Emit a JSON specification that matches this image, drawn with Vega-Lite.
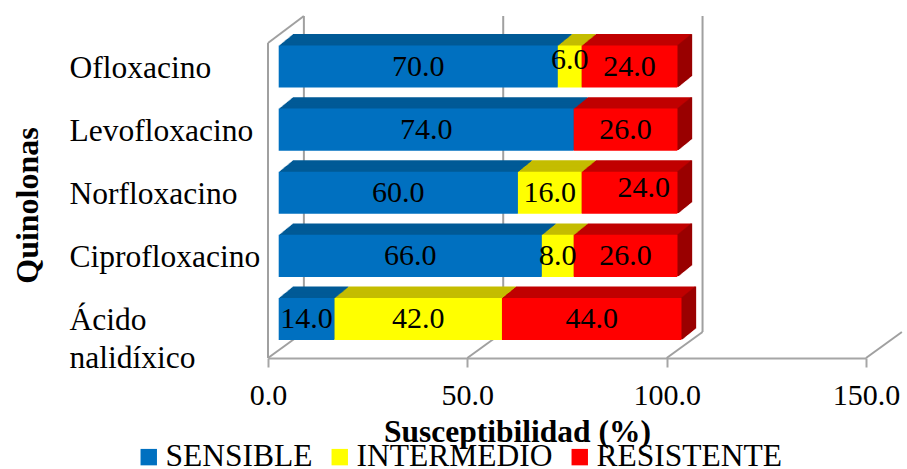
{"$schema":"https://vega.github.io/schema/vega-lite/v6.json","width":598,"height":343,"autosize":"none","padding":{"left":268,"top":15,"right":41,"bottom":111},"background":"white","config":{"view":{"stroke":null},"font":"Liberation Serif"},
"datasets":{"bars":[
{"q":"Ofloxacino","cat":"SENSIBLE","inicio":0,"fin":70,"valor":70},
{"q":"Ofloxacino","cat":"INTERMEDIO","inicio":70,"fin":76,"valor":6},
{"q":"Ofloxacino","cat":"RESISTENTE","inicio":76,"fin":100,"valor":24},
{"q":"Levofloxacino","cat":"SENSIBLE","inicio":0,"fin":74,"valor":74},
{"q":"Levofloxacino","cat":"RESISTENTE","inicio":74,"fin":100,"valor":26},
{"q":"Norfloxacino","cat":"SENSIBLE","inicio":0,"fin":60,"valor":60},
{"q":"Norfloxacino","cat":"INTERMEDIO","inicio":60,"fin":76,"valor":16},
{"q":"Norfloxacino","cat":"RESISTENTE","inicio":76,"fin":100,"valor":24},
{"q":"Ciprofloxacino","cat":"SENSIBLE","inicio":0,"fin":66,"valor":66},
{"q":"Ciprofloxacino","cat":"INTERMEDIO","inicio":66,"fin":74,"valor":8},
{"q":"Ciprofloxacino","cat":"RESISTENTE","inicio":74,"fin":100,"valor":26},
{"q":"Ácido nalidíxico","cat":"SENSIBLE","inicio":0,"fin":14,"valor":14},
{"q":"Ácido nalidíxico","cat":"INTERMEDIO","inicio":14,"fin":56,"valor":42},
{"q":"Ácido nalidíxico","cat":"RESISTENTE","inicio":56,"fin":101,"valor":44}
],"walls":[
{"x":0,"x2":0,"y":0,"y2":315},
{"x":0,"x2":9,"y":315,"y2":342},
{"x":9,"x2":9,"y":26,"y2":342},
{"x":59,"x2":59,"y":26,"y2":342},
{"x":109,"x2":109,"y":26,"y2":342},
{"x":0,"x2":9,"y":0,"y2":26},
{"x":50,"x2":59,"y":0,"y2":26},
{"x":100,"x2":109,"y":0,"y2":26},
{"x":150,"x2":159,"y":0,"y2":26}
]},
"resolve":{"scale":{"y":"independent"},"axis":{"y":"independent"}},
"layer":[
{"data":{"name":"walls"},"mark":{"type":"rule","color":"#A0A0A0","strokeWidth":2,"clip":false},
"encoding":{"x":{"field":"x","type":"quantitative","scale":{"domain":[0,150],"nice":false},"axis":{"values":[0,50,100,150],"format":".1f","grid":false,"domainColor":"#A6A6A6","domainWidth":2,"tickColor":"#A6A6A6","tickWidth":2,"tickSize":9,"labelFont":"Liberation Serif","labelFontSize":30,"labelColor":"#000000","labelPadding":13,"labelFlush":false,"labelOverlap":false,"title":"Susceptibilidad (%)","titleFont":"Liberation Serif","titleFontSize":31.5,"titleFontWeight":"bold","titleColor":"#000000","titleX":249,"titleY":74,"titleBaseline":"middle","titleAlign":"center"}},"x2":{"field":"x2"},"y":{"field":"y","type":"quantitative","scale":{"domain":[0,343],"nice":false},"axis":null},"y2":{"field":"y2"}}},
{"data":{"name":"bars"},
"encoding":{"y":{"field":"q","type":"nominal","sort":null,"scale":{"domain":["Ofloxacino","Levofloxacino","Norfloxacino","Ciprofloxacino","Ácido nalidíxico"],"range":[20,335.5],"paddingInner":0.3333,"paddingOuter":0.1667},"axis":{"title":"Quinolonas","titleFont":"Liberation Serif","titleFontSize":32,"titleFontWeight":"bold","titleColor":"#000000","titleX":-241,"titleY":190,"titleBaseline":"middle","titleAlign":"center","domain":false,"ticks":false,"labelAlign":"left","labelPadding":199,"labelFont":"Liberation Serif","labelFontSize":31.5,"labelColor":"#000000","labelLimit":400,"labelLineHeight":38,"labelOffset":2,"labelExpr":"datum.label == 'Ácido nalidíxico' ? ['Ácido', 'nalidíxico'] : datum.label"}}},
"resolve":{"scale":{"color":"independent"}},
"layer":[
{"encoding":{"x":{"field":"inicio","type":"quantitative"},"x2":{"field":"fin"},"color":{"field":"cat","type":"nominal","legend":null,"scale":{"domain":["SENSIBLE","INTERMEDIO","RESISTENTE"],"range":["#005A96","#C4BD00","#C00000"]}}},
"layer":[
{"mark":{"type":"bar","xOffset":24.7,"x2Offset":24.7,"yOffset":-11.4,"y2Offset":-11.4}},
{"mark":{"type":"bar","xOffset":23.7,"x2Offset":23.7,"yOffset":-10.6,"y2Offset":-10.6}},
{"mark":{"type":"bar","xOffset":22.7,"x2Offset":22.7,"yOffset":-9.8,"y2Offset":-9.8}},
{"mark":{"type":"bar","xOffset":21.7,"x2Offset":21.7,"yOffset":-8.9,"y2Offset":-8.9}},
{"mark":{"type":"bar","xOffset":20.7,"x2Offset":20.7,"yOffset":-8.1,"y2Offset":-8.1}},
{"mark":{"type":"bar","xOffset":19.7,"x2Offset":19.7,"yOffset":-7.3,"y2Offset":-7.3}},
{"mark":{"type":"bar","xOffset":18.7,"x2Offset":18.7,"yOffset":-6.5,"y2Offset":-6.5}},
{"mark":{"type":"bar","xOffset":17.7,"x2Offset":17.7,"yOffset":-5.7,"y2Offset":-5.7}},
{"mark":{"type":"bar","xOffset":16.7,"x2Offset":16.7,"yOffset":-4.9,"y2Offset":-4.9}},
{"mark":{"type":"bar","xOffset":15.7,"x2Offset":15.7,"yOffset":-4.1,"y2Offset":-4.1}},
{"mark":{"type":"bar","xOffset":14.7,"x2Offset":14.7,"yOffset":-3.3,"y2Offset":-3.3}},
{"mark":{"type":"bar","xOffset":13.7,"x2Offset":13.7,"yOffset":-2.4,"y2Offset":-2.4}},
{"mark":{"type":"bar","xOffset":12.7,"x2Offset":12.7,"yOffset":-1.6,"y2Offset":-1.6}},
{"mark":{"type":"bar","xOffset":11.7,"x2Offset":11.7,"yOffset":-0.8,"y2Offset":-0.8}}
]},
{"transform":[{"filter":"datum.cat == 'RESISTENTE'"}],"encoding":{"x":{"field":"fin","type":"quantitative"}},
"layer":[
{"mark":{"type":"tick","size":42,"thickness":1.6,"color":"#9A0000","opacity":1,"xOffset":24.7,"yOffset":-11.4}},
{"mark":{"type":"tick","size":42,"thickness":1.6,"color":"#9A0000","opacity":1,"xOffset":23.7,"yOffset":-10.6}},
{"mark":{"type":"tick","size":42,"thickness":1.6,"color":"#9A0000","opacity":1,"xOffset":22.7,"yOffset":-9.8}},
{"mark":{"type":"tick","size":42,"thickness":1.6,"color":"#9A0000","opacity":1,"xOffset":21.7,"yOffset":-8.9}},
{"mark":{"type":"tick","size":42,"thickness":1.6,"color":"#9A0000","opacity":1,"xOffset":20.7,"yOffset":-8.1}},
{"mark":{"type":"tick","size":42,"thickness":1.6,"color":"#9A0000","opacity":1,"xOffset":19.7,"yOffset":-7.3}},
{"mark":{"type":"tick","size":42,"thickness":1.6,"color":"#9A0000","opacity":1,"xOffset":18.7,"yOffset":-6.5}},
{"mark":{"type":"tick","size":42,"thickness":1.6,"color":"#9A0000","opacity":1,"xOffset":17.7,"yOffset":-5.7}},
{"mark":{"type":"tick","size":42,"thickness":1.6,"color":"#9A0000","opacity":1,"xOffset":16.7,"yOffset":-4.9}},
{"mark":{"type":"tick","size":42,"thickness":1.6,"color":"#9A0000","opacity":1,"xOffset":15.7,"yOffset":-4.1}},
{"mark":{"type":"tick","size":42,"thickness":1.6,"color":"#9A0000","opacity":1,"xOffset":14.7,"yOffset":-3.3}},
{"mark":{"type":"tick","size":42,"thickness":1.6,"color":"#9A0000","opacity":1,"xOffset":13.7,"yOffset":-2.4}},
{"mark":{"type":"tick","size":42,"thickness":1.6,"color":"#9A0000","opacity":1,"xOffset":12.7,"yOffset":-1.6}},
{"mark":{"type":"tick","size":42,"thickness":1.6,"color":"#9A0000","opacity":1,"xOffset":11.7,"yOffset":-0.8}}
]},
{"mark":{"type":"bar","xOffset":10.7,"x2Offset":10.7},
"encoding":{"x":{"field":"inicio","type":"quantitative"},"x2":{"field":"fin"},"color":{"field":"cat","type":"nominal","scale":{"domain":["SENSIBLE","INTERMEDIO","RESISTENTE"],"range":["#0070C0","#FFFF00","#FF0000"]},"legend":{"title":null,"orient":"none","legendX":-135,"legendY":426,"direction":"horizontal","columns":3,"symbolType":"square","symbolSize":270,"symbolStrokeWidth":0,"labelFont":"Liberation Serif","labelFontSize":31.5,"labelColor":"#000000","labelOffset":1,"columnPadding":11,"labelLimit":300,"padding":0}}}},
{"transform":[{"calculate":"(datum.inicio + datum.fin) / 2","as":"centro"},{"filter":"!(datum.valor == 6 || (datum.q == 'Norfloxacino' && datum.valor == 24))"}],
"mark":{"type":"text","xOffset":10.7,"fontSize":30,"font":"Liberation Serif","color":"#000000","baseline":"middle"},
"encoding":{"x":{"field":"centro","type":"quantitative"},"text":{"field":"valor","type":"quantitative","format":".1f"}}},
{"transform":[{"calculate":"(datum.inicio + datum.fin) / 2","as":"centro"},{"filter":"datum.valor == 6"}],
"mark":{"type":"text","xOffset":10.7,"yOffset":-7,"fontSize":30,"font":"Liberation Serif","color":"#000000","baseline":"middle"},
"encoding":{"x":{"field":"centro","type":"quantitative"},"text":{"field":"valor","type":"quantitative","format":".1f"}}},
{"transform":[{"calculate":"(datum.inicio + datum.fin) / 2","as":"centro"},{"filter":"datum.q == 'Norfloxacino' && datum.valor == 24"}],
"mark":{"type":"text","xOffset":25,"yOffset":-5,"fontSize":30,"font":"Liberation Serif","color":"#000000","baseline":"middle"},
"encoding":{"x":{"field":"centro","type":"quantitative"},"text":{"field":"valor","type":"quantitative","format":".1f"}}}
]}
]}
